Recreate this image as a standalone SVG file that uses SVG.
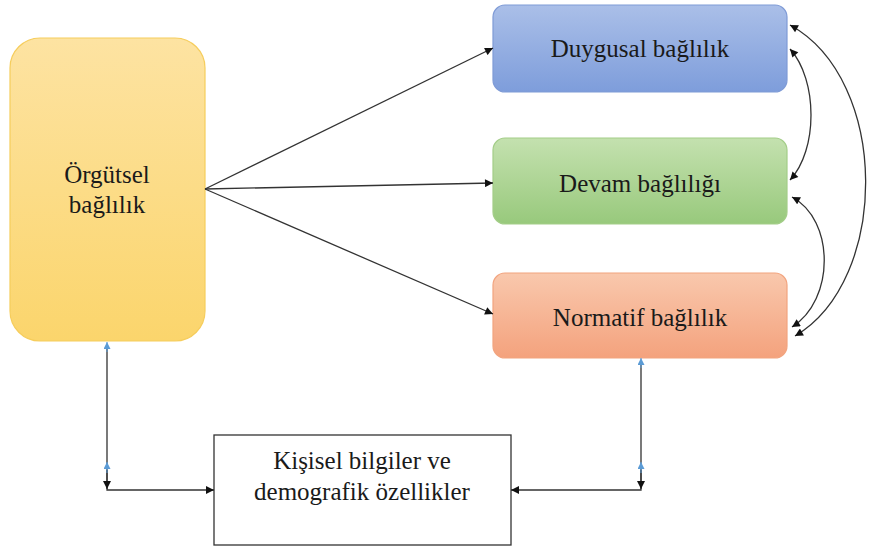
<svg xmlns="http://www.w3.org/2000/svg" width="869" height="547" viewBox="0 0 869 547">
<defs>
<linearGradient id="gY" x1="0" y1="0" x2="0" y2="1"><stop offset="0" stop-color="#fde3a2"/><stop offset="1" stop-color="#fbd56c"/></linearGradient>
<linearGradient id="gB" x1="0" y1="0" x2="0" y2="1"><stop offset="0" stop-color="#aabfe8"/><stop offset="1" stop-color="#7e9ddb"/></linearGradient>
<linearGradient id="gG" x1="0" y1="0" x2="0" y2="1"><stop offset="0" stop-color="#c4e1af"/><stop offset="1" stop-color="#98c97c"/></linearGradient>
<linearGradient id="gO" x1="0" y1="0" x2="0" y2="1"><stop offset="0" stop-color="#f9c8ad"/><stop offset="1" stop-color="#f4a27d"/></linearGradient>
<marker id="ah" viewBox="0 0 10 10" refX="10" refY="5" markerWidth="9" markerHeight="8" markerUnits="userSpaceOnUse" orient="auto-start-reverse"><path d="M0,0 L10,5 L0,10 z" fill="#111"/></marker>
<marker id="bh" viewBox="0 0 10 10" refX="10" refY="5" markerWidth="8" markerHeight="7" markerUnits="userSpaceOnUse" orient="auto"><path d="M0,0 L10,5 L0,10 z" fill="#5b9bd5"/></marker>
</defs>
<style>
.c{fill:none;stroke:#333;stroke-width:1.3}
</style>
<g font-family="Liberation Serif, DejaVu Serif, serif" font-size="25" fill="#1a1a1a" text-anchor="middle">
<g id="orgutsel">
<rect x="10" y="38" width="195" height="303" rx="30" fill="url(#gY)" stroke="#f6cd5c" stroke-width="1.2"/>
<text x="107" y="183">Örgütsel</text>
<text x="107" y="213">bağlılık</text>
</g>
<g id="duygusal">
<rect x="493" y="5" width="294" height="87" rx="12" fill="url(#gB)" stroke="#7f9bd6" stroke-width="1.2"/>
<text x="640" y="57">Duygusal bağlılık</text>
</g>
<g id="devam">
<rect x="493" y="138" width="294" height="86" rx="12" fill="url(#gG)" stroke="#a3cd88" stroke-width="1.2"/>
<text x="640" y="192">Devam bağlılığı</text>
</g>
<g id="normatif">
<rect x="493" y="273" width="294" height="85" rx="12" fill="url(#gO)" stroke="#f2a47f" stroke-width="1.2"/>
<text x="640" y="326">Normatif bağlılık</text>
</g>
<g id="kisisel">
<rect x="214" y="435" width="297" height="110" fill="#fff" stroke="#333" stroke-width="1.3"/>
<text x="362" y="469">Kişisel bilgiler ve</text>
<text x="362" y="500">demografik özellikler</text>
</g>
</g>
<g id="connectors">
<path class="c" d="M205,189 L493,48" marker-end="url(#ah)"/>
<path class="c" d="M205,189 L493,183" marker-end="url(#ah)"/>
<path class="c" d="M205,189 L493,314" marker-end="url(#ah)"/>
<path class="c" d="M790,49 C818,80 818,150 790,180" marker-start="url(#ah)" marker-end="url(#ah)"/>
<path class="c" d="M790,25 C890,80 890,280 795,336" marker-start="url(#ah)" marker-end="url(#ah)"/>
<path class="c" d="M792,197 C835,220 835,300 792,327" marker-start="url(#ah)" marker-end="url(#ah)"/>
<path class="c" d="M107,348 L107,490 L214,490" marker-end="url(#ah)"/>
<path class="c" d="M107,470 L107,489" marker-end="url(#ah)"/>
<path d="M107,352 L107,342" stroke="#5b9bd5" stroke-width="1" marker-end="url(#bh)"/>
<path d="M107,473 L107,462" stroke="#5b9bd5" stroke-width="1" marker-end="url(#bh)"/>
<path class="c" d="M641,362 L641,490 L511,490" marker-end="url(#ah)"/>
<path class="c" d="M641,470 L641,489" marker-end="url(#ah)"/>
<path d="M641,368 L641,358" stroke="#5b9bd5" stroke-width="1" marker-end="url(#bh)"/>
<path d="M641,473 L641,462" stroke="#5b9bd5" stroke-width="1" marker-end="url(#bh)"/>
</g>
</svg>
